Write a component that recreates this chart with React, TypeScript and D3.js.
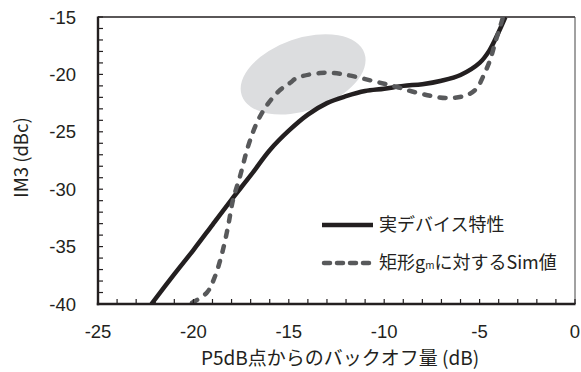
import React from 'react';
import * as d3 from 'd3';

// 実デバイス特性 (solid)
const realX = [-22.2, -21, -20, -19, -18, -17, -16, -15, -14, -13, -12, -11, -10, -9, -8, -7, -6, -5, -4.5, -4, -3.65];
const realY = [-40, -37.4, -35.3, -33.1, -30.9, -28.8, -26.6, -24.9, -23.5, -22.5, -21.9, -21.45, -21.25, -21.0, -20.85, -20.55, -20.05, -19.0, -17.95, -16.3, -15];

// 矩形gmに対するSim値 (dashed)
const simX = [-20.07, -19.29, -18.87, -18.5, -18.19, -17.92, -17.56, -17.14, -16.67, -16.14, -15.46, -14.94, -14.57, -13.36, -12.68, -11.95, -10.38, -9.33, -8.28, -6.71, -5.66, -5.14, -4.82, -4.45, -4.19, -3.93, -3.77];
const simY = [-39.9, -39.0, -37.6, -35.6, -33.3, -30.9, -28.9, -26.3, -24.2, -22.67, -21.36, -20.75, -20.3, -19.88, -19.88, -20.05, -20.66, -21.1, -21.6, -22.06, -21.8, -21.2, -20.2, -18.75, -17.26, -15.87, -15];

const xTicks = [-25, -20, -15, -10, -5, 0];
const yTicks = [-15, -20, -25, -30, -35, -40];
const legendLabels = ['実デバイス特性', '矩形g', 'に対するSim値'];

// highlight ellipse (data coords + size in dB)
const ellipseCenter = { x: -14.25, y: -20.0 };
const ellipseSize = { rx: 3.4, ry: 3.14, angle: -19 };

const W = 581;
const H = 372;
const margin = { left: 98, right: 6, top: 17, bottom: 68 };

export default function App() {
  const x = d3.scaleLinear().domain([-25, 0]).range([margin.left, W - margin.right]);
  const y = d3.scaleLinear().domain([-40, -15]).range([H - margin.bottom, margin.top]);

  const line = d3
    .line<[number, number]>()
    .x((d) => x(d[0]))
    .y((d) => y(d[1]))
    .curve(d3.curveCatmullRom.alpha(0.5));

  const realPts = realX.map((v, i) => [v, realY[i]] as [number, number]);
  const simPts = simX.map((v, i) => [v, simY[i]] as [number, number]);

  const minorX = d3.range(-25, 1, 1);
  const minorY = d3.range(-40, -14, 1);

  const x0 = x(-25), x1 = x(0), y0 = y(-40), y1 = y(-15);
  const ecx = x(ellipseCenter.x);
  const ecy = y(ellipseCenter.y);
  const erx = x(-25 + ellipseSize.rx) - x(-25);
  const ery = y(-40) - y(-40 + ellipseSize.ry);

  const dark = '#231f20';
  const grey = '#58595b';
  const jp = "'Noto Sans CJK JP', 'Noto Sans', sans-serif";

  return (
    <svg width={W} height={H} style={{ position: 'absolute', left: 0, top: 0, background: '#fff' }}>
      <defs>
        <clipPath id="plot">
          <rect x={x0} y={y1} width={x1 - x0} height={y0 - y1} />
        </clipPath>
      </defs>

      <ellipse
        cx={ecx}
        cy={ecy}
        rx={erx}
        ry={ery}
        fill="#dcdddf"
        transform={`rotate(${ellipseSize.angle},${ecx},${ecy})`}
      />

      {/* frame */}
      <line x1={x0} x2={x1} y1={y1} y2={y1} stroke={dark} strokeWidth={1.3} />
      <line x1={x1} x2={x1} y1={y1} y2={y0} stroke="#444" strokeWidth={1} />

      <g clipPath="url(#plot)">
        <path d={line(realPts) || ''} fill="none" stroke={dark} strokeWidth={4.5} />
        <path
          d={line(simPts) || ''}
          fill="none"
          stroke={grey}
          strokeWidth={4.5}
          strokeDasharray="6,9.5"
          strokeLinecap="round"
        />
      </g>

      {/* minor ticks */}
      {minorX.map((v) => (
        <line key={'tx' + v} x1={x(v)} x2={x(v)} y1={y0} y2={y0 - 5} stroke={dark} strokeWidth={1.2} />
      ))}
      {minorY.map((v) => (
        <line key={'ty' + v} x1={x0} x2={x0 + 5} y1={y(v)} y2={y(v)} stroke={dark} strokeWidth={1.2} />
      ))}

      {/* axes */}
      <line x1={x0} x2={x0} y1={y1 - 0.6} y2={y0 + 1.2} stroke={dark} strokeWidth={2.4} />
      <line x1={x0 - 1.2} x2={x1 + 0.5} y1={y0} y2={y0} stroke={dark} strokeWidth={2.4} />

      {/* tick labels */}
      <g fontFamily="'Liberation Sans', Arial, sans-serif" fontSize={18.5} fill={dark}>
        {xTicks.map((v) => (
          <text key={'lx' + v} x={x(v)} y={338} textAnchor="middle">
            {v}
          </text>
        ))}
        {yTicks.map((v) => (
          <text key={'ly' + v} x={76} y={y(v)} dy="0.36em" textAnchor="end">
            {v}
          </text>
        ))}
      </g>

      {/* axis titles */}
      <text x={340} y={364.5} textAnchor="middle" fontFamily={jp} fontSize={19} fill={dark}>
        P5dB点からのバックオフ量 (dB)
      </text>
      <text
        transform="translate(28,157.5) rotate(-90)"
        textAnchor="middle"
        fontFamily={jp}
        fontSize={18.5}
        fill={dark}
      >
        IM3 (dBc)
      </text>

      {/* legend */}
      <line x1={322} x2={373} y1={225} y2={225} stroke={dark} strokeWidth={4.5} />
      <text x={379} y={225} dy="0.35em" fontFamily={jp} fontSize={18} fill={dark}>
        {legendLabels[0]}
      </text>
      <line
        x1={324}
        x2={372}
        y1={263}
        y2={263}
        stroke={grey}
        strokeWidth={4.5}
        strokeDasharray="6,7"
        strokeLinecap="round"
      />
      <text x={379} y={263} dy="0.35em" fontFamily={jp} fontSize={18} fill={dark}>
        {legendLabels[1]}
        <tspan fontSize={10}>m</tspan>
        {legendLabels[2]}
      </text>
    </svg>
  );
}
